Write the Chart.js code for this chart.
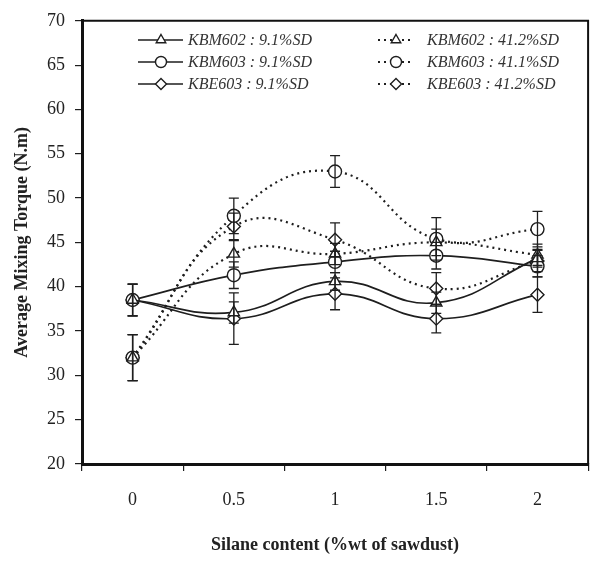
<!DOCTYPE html>
<html>
<head>
<meta charset="utf-8">
<script src="https://cdn.jsdelivr.net/npm/chart.js@4.4.1/dist/chart.umd.min.js"></script>
<style>
  html, body { margin: 0; padding: 0; background: #fff; }
</style>
</head>
<body>
<canvas id="myChart" width="596" height="571"></canvas>
<script>
// silane content categories
const categories = ['0', '0.5', '1', '1.5', '2'];

// average mixing torque (N.m)
const kbm602Low = [38.5, 37.1, 40.6, 38.2, 43.2];
const kbm602High = [32.0, 43.7, 43.7, 45.0, 43.6];
const kbm603Low = [38.5, 41.3, 42.8, 43.5, 42.3];
const kbm603High = [32.0, 48.0, 53.0, 45.4, 46.5];
const kbe603Low = [38.5, 36.4, 39.2, 36.4, 39.1];
const kbe603High = [32.0, 46.8, 45.3, 39.8, 42.9];

// error bar half-heights
const kbm602LowErr = [1.8, 1.2, 1.0, 1.2, 1.0];
const kbm602HighErr = [2.6, 1.5, 1.2, 1.5, 1.2];
const kbm603LowErr = [1.8, 1.5, 1.2, 1.5, 1.2];
const kbm603HighErr = [2.6, 2.0, 1.8, 2.4, 2.0];
const kbe603LowErr = [1.8, 2.9, 1.8, 1.6, 2.0];
const kbe603HighErr = [2.6, 1.5, 1.9, 1.8, 1.2];

const serif = "'Liberation Serif', 'Times New Roman', serif";
const ink = '#1e1e1e';

function series(label, data, errors, pointStyle, dotted) {
    return {
        label: label,
        data: data,
        errors: errors,
        borderColor: ink,
        borderWidth: dotted ? 2.2 : 1.7,
        borderDash: dotted ? [2, 4] : [],
        tension: 0.45,
        pointStyle: pointStyle,
        pointRadius: 6.5,
        pointBorderWidth: 1.4,
        pointBackgroundColor: '#fff',
        pointBorderColor: ink,
        fill: false
    };
}

// error bars drawn through the y scale
const errorBars = {
    id: 'errorBars',
    afterDatasetsDraw(chart) {
        const ctx = chart.ctx;
        const y = chart.scales.y;
        ctx.save();
        ctx.strokeStyle = ink;
        ctx.lineWidth = 1.3;
        chart.data.datasets.forEach((ds, i) => {
            chart.getDatasetMeta(i).data.forEach((pt, j) => {
                const top = y.getPixelForValue(ds.data[j] + ds.errors[j]);
                const bot = y.getPixelForValue(ds.data[j] - ds.errors[j]);
                ctx.beginPath();
                ctx.moveTo(pt.x, top); ctx.lineTo(pt.x, bot);
                ctx.moveTo(pt.x - 5, top); ctx.lineTo(pt.x + 5, top);
                ctx.moveTo(pt.x - 5, bot); ctx.lineTo(pt.x + 5, bot);
                ctx.stroke();
            });
        });
        ctx.restore();
    }
};

// thin top/right frame + two-column legend inside the plot
const frameAndLegend = {
    id: 'frameAndLegend',
    afterDraw(chart) {
        const ctx = chart.ctx;
        const a = chart.chartArea;
        ctx.save();
        ctx.strokeStyle = '#111';
        ctx.lineWidth = 2;
        ctx.beginPath();
        ctx.moveTo(a.left, a.top); ctx.lineTo(a.right, a.top); ctx.lineTo(a.right, a.bottom);
        ctx.stroke();

        const rows = [40, 62, 84];
        const cols = [{ x0: 138, x1: 183, mx: 161, tx: 188 }, { x0: 378, x1: 414, mx: 396, tx: 427 }];
        ctx.font = 'italic 16px ' + serif;
        ctx.textBaseline = 'middle';
        chart.data.datasets.forEach((ds, i) => {
            const c = cols[i % 2];
            const yy = rows[Math.floor(i / 2)];
            ctx.strokeStyle = ink;
            ctx.lineWidth = ds.borderDash.length ? 2 : 1.6;
            ctx.setLineDash(ds.borderDash);
            ctx.beginPath();
            ctx.moveTo(c.x0, yy); ctx.lineTo(c.x1, yy);
            ctx.stroke();
            ctx.setLineDash([]);
            ctx.fillStyle = '#fff';
            ctx.lineWidth = 1.4;
            Chart.helpers.drawPoint(ctx, { pointStyle: ds.pointStyle, radius: 5.5, borderWidth: 1.4, rotation: 0 }, c.mx, yy);
            ctx.fillStyle = '#333';
            ctx.fillText(ds.label, c.tx, yy + 1);
        });
        ctx.restore();
    }
};

const config = {
    type: 'line',
    data: {
        labels: categories,
        datasets: [
            series('KBM602 : 9.1%SD', kbm602Low, kbm602LowErr, 'triangle', false),
            series('KBM602 : 41.2%SD', kbm602High, kbm602HighErr, 'triangle', true),
            series('KBM603 : 9.1%SD', kbm603Low, kbm603LowErr, 'circle', false),
            series('KBM603 : 41.1%SD', kbm603High, kbm603HighErr, 'circle', true),
            series('KBE603 : 9.1%SD', kbe603Low, kbe603LowErr, 'rectRot', false),
            series('KBE603 : 41.2%SD', kbe603High, kbe603HighErr, 'rectRot', true)
        ]
    },
    options: {
        responsive: false,
        animation: false,
        layout: { padding: { top: 18, right: 4, left: 0, bottom: 0 } },
        plugins: {
            legend: { display: false },
            tooltip: { enabled: false }
        },
        scales: {
            x: {
                offset: true,
                grid: { drawOnChartArea: false, offset: true, tickLength: 7, color: ink, lineWidth: 1.2 },
                border: { color: '#111', width: 3 },
                ticks: { font: { family: serif, size: 18 }, color: '#222', padding: 18 },
                title: {
                    display: true,
                    text: 'Silane content (%wt of sawdust)',
                    font: { family: serif, size: 18, weight: 'bold' },
                    color: '#222',
                    padding: { top: 0, bottom: 15 }
                },
                afterFit(scale) { scale.height = 107; }
            },
            y: {
                min: 20,
                max: 70,
                grid: { drawOnChartArea: false, tickLength: 7, color: ink, lineWidth: 1.2 },
                border: { color: '#111', width: 3 },
                ticks: {
                    stepSize: 2.5,
                    font: { family: serif, size: 18 },
                    color: '#222',
                    padding: 10,
                    callback: v => (v % 5 === 0 ? v : '')
                },
                title: {
                    display: true,
                    text: 'Average Mixing Torque (N.m)',
                    font: { family: serif, size: 18, weight: 'bold' },
                    color: '#222',
                    padding: { top: 12, bottom: 12 }
                },
                afterFit(scale) { scale.width = 82; }
            }
        }
    },
    plugins: [errorBars, frameAndLegend]
};

// Render the chart
const ctx = document.getElementById('myChart').getContext('2d');
const myChart = new Chart(ctx, config);
</script>
</body>
</html>
